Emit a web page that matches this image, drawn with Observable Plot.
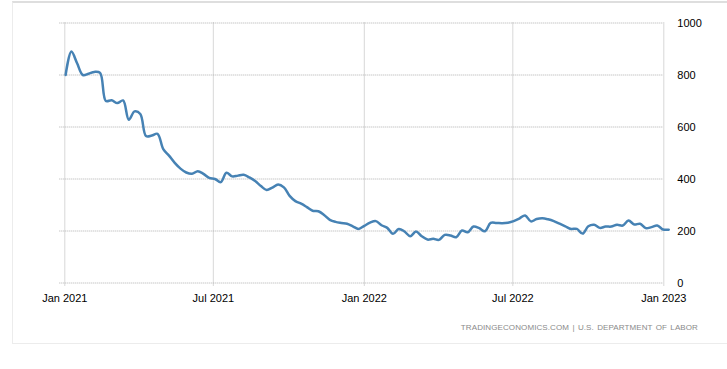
<!DOCTYPE html>
<html>
<head>
<meta charset="utf-8">
<script src="https://cdn.jsdelivr.net/npm/d3@7"></script>
<script src="https://cdn.jsdelivr.net/npm/@observablehq/plot@0.6"></script>
<style>
  html, body { margin: 0; padding: 0; background: #fff; overflow: hidden; width: 727px; height: 369px; }
  #frame { position: absolute; left: 12px; top: 1px; width: 740px; height: 340px;
           border-top: 2px solid #dedede; border-left: 1px solid #ececec; border-bottom: 1px solid #ececec; }
  #chart { position: absolute; left: 0; top: 0; }
  #source { position: absolute; right: 29px; top: 323px; font-family: "Liberation Sans", Arial, sans-serif;
            font-size: 8px; letter-spacing: 0.1px; word-spacing: 1px; color: #8a8a8a; white-space: nowrap; }
</style>
</head>
<body>
<div id="frame"></div>
<div id="chart"></div>
<div id="source">TRADINGECONOMICS.COM | U.S. DEPARTMENT OF LABOR</div>
<script>
const weeks = [
  "2021-01-02","2021-01-09","2021-01-16","2021-01-23","2021-01-30","2021-02-06","2021-02-13","2021-02-20","2021-02-27",
  "2021-03-06","2021-03-13","2021-03-20","2021-03-27","2021-04-03","2021-04-10","2021-04-17","2021-04-24",
  "2021-05-01","2021-05-08","2021-05-15","2021-05-22","2021-05-29","2021-06-05","2021-06-12","2021-06-19","2021-06-26",
  "2021-07-03","2021-07-10","2021-07-17","2021-07-24","2021-07-31","2021-08-07","2021-08-14","2021-08-21","2021-08-28",
  "2021-09-04","2021-09-11","2021-09-18","2021-09-25","2021-10-02","2021-10-09","2021-10-16","2021-10-23","2021-10-30",
  "2021-11-06","2021-11-13","2021-11-20","2021-11-27","2021-12-04","2021-12-11","2021-12-18","2021-12-25",
  "2022-01-01","2022-01-08","2022-01-15","2022-01-22","2022-01-29","2022-02-05","2022-02-12","2022-02-19","2022-02-26",
  "2022-03-05","2022-03-12","2022-03-19","2022-03-26","2022-04-02","2022-04-09","2022-04-16","2022-04-23","2022-04-30",
  "2022-05-07","2022-05-14","2022-05-21","2022-05-28","2022-06-04","2022-06-11","2022-06-18","2022-06-25",
  "2022-07-02","2022-07-09","2022-07-16","2022-07-23","2022-07-30","2022-08-06","2022-08-13","2022-08-20","2022-08-27",
  "2022-09-03","2022-09-10","2022-09-17","2022-09-24","2022-10-01","2022-10-08","2022-10-15","2022-10-22","2022-10-29",
  "2022-11-05","2022-11-12","2022-11-19","2022-11-26","2022-12-03","2022-12-10","2022-12-17","2022-12-24","2022-12-31",
  "2023-01-07"
];
const claims = [
  800, 890, 845, 800, 805, 812, 808, 700, 703,
  692, 702, 628, 660, 650, 565, 567, 574,
  515, 490, 462, 440, 425, 420, 430, 420, 404,
  400, 388, 424, 410, 413, 416, 406, 392, 373,
  358, 367, 379, 368, 335, 315, 305, 292, 278,
  276, 262, 243, 235, 231, 228, 218, 208,
  220, 232, 238, 222, 212, 189, 208, 198, 180,
  198, 180, 167, 170, 166, 185, 183, 176, 202,
  195, 217, 211, 199, 231, 231, 230, 232,
  238, 248, 260, 237, 246, 249, 245, 238, 228,
  218, 208, 208, 190, 218, 224, 212, 217, 217,
  224, 221, 240, 225, 228, 211, 215, 221, 206,
  205
];
const yTicks = [0, 200, 400, 600, 800, 1000];
const yTickLabels = ["0", "200", "400", "600", "800", "1000"];
const xTickDates = ["2021-01-01", "2021-07-01", "2022-01-01", "2022-07-01", "2023-01-01"];
const xTickLabels = ["Jan 2021", "Jul 2021", "Jan 2022", "Jul 2022", "Jan 2023"];

const data = weeks.map((w, i) => ({date: new Date(w), value: claims[i]}));
const xTicks = xTickDates.map(d => new Date(d));
const xLabelMap = new Map(xTicks.map((d, i) => [+d, xTickLabels[i]]));
const yLabelMap = new Map(yTicks.map((d, i) => [d, yTickLabels[i]]));

const gridStyle = {stroke: "#b0b0b0", strokeOpacity: 1, strokeDasharray: "1,1", strokeWidth: 1};

const chart = Plot.plot({
  width: 727,
  height: 310,
  marginLeft: 59.3,
  marginRight: 63.7,
  marginTop: 22.5,
  marginBottom: 24,
  x: {type: "utc", domain: [xTicks[0], xTicks[xTicks.length - 1]], insetLeft: 5},
  y: {domain: [0, 1000], insetBottom: 3.5},
  style: {fontFamily: "'Liberation Sans', Arial, sans-serif", fontSize: "11px", color: "#000", background: "transparent", overflow: "visible"},
  marks: [
    Plot.gridY(yTicks, gridStyle),
    Plot.gridX(xTicks, gridStyle),
    Plot.axisX(xTicks, {tickSize: 0, tickPadding: 8, label: null, tickFormat: d => xLabelMap.get(+d), fill: "#000"}),
    Plot.axisY(yTicks, {anchor: "right", tickSize: 0, tickPadding: 13.5, textAnchor: "start", label: null, tickFormat: d => yLabelMap.get(d), fill: "#000"}),
    Plot.line(data, {x: "date", y: "value", stroke: "#4682b4", strokeWidth: 2.5, curve: "catmull-rom"})
  ]
});
document.getElementById("chart").appendChild(chart);
</script>
</body>
</html>
